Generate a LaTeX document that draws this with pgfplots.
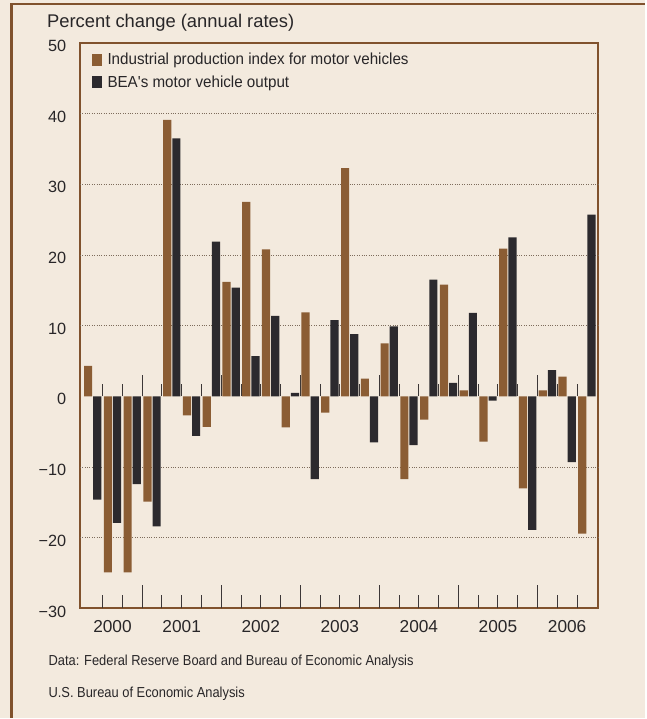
\documentclass[border=0pt]{standalone}
\usepackage{fontspec}
\setmainfont{Liberation Sans}
\newfontfamily\legfont[FakeStretch=0.95]{Liberation Sans}
\newfontfamily\srcfont[FakeStretch=0.89]{Liberation Sans}
\usepackage{pgfplots}
\pgfplotsset{compat=1.18}
\usepackage{pgfplotstable}

\definecolor{bg}{RGB}{243,234,222}
\definecolor{frame}{RGB}{128,82,45}
\definecolor{brownbar}{RGB}{139,93,52}
\definecolor{darkbar}{RGB}{44,42,46}
\definecolor{gridc}{RGB}{125,108,92}
\definecolor{txt}{RGB}{40,38,40}
\definecolor{tickc}{RGB}{60,55,55}

\pgfplotstableread{
q ip bea
0 4.3 -14.6
1 -24.9 -17.9
2 -24.9 -12.4
3 -14.9 -18.4
4 39.1 36.5
5 -2.7 -5.6
6 -4.3 21.9
7 16.2 15.4
8 27.5 5.7
9 20.8 11.4
10 -4.4 0.5
11 11.9 -11.7
12 -2.3 10.8
13 32.3 8.8
14 2.5 -6.5
15 7.5 9.9
16 -11.7 -6.9
17 -3.3 16.5
18 15.8 1.9
19 0.85 11.8
20 -6.4 -0.6
21 20.9 22.5
22 -13.0 -18.9
23 0.85 3.7
24 2.8 -9.3
25 -19.4 25.7
}\datatable

\begin{document}
\begin{tikzpicture}
\fill[bg] (0bp,0bp) rectangle (646bp,719bp);
\draw[frame, line width=2.5bp] (11.7bp,0bp) -- (11.7bp,715bp) -- (646bp,715bp);
\node[anchor=base west, font=\fontsize{18.4bp}{21bp}\selectfont, text=txt, inner sep=0pt] at (47bp,691bp) {Percent change (annual rates)};
\begin{axis}[
 at={(80bp,109.5bp)}, anchor=south west,
 scale only axis, width=519bp, height=566.5bp,
 xmin=-0.65, xmax=25.56, ymin=-30, ymax=50,
 axis line style={draw=frame, line width=2bp},
 ytick={-30,-20,...,50},
 yticklabels={−30,−20,−10,0,10,20,30,40,50},
 major tick length=0pt,
 yticklabel style={font=\fontsize{16.3bp}{18bp}\selectfont, text=txt, inner sep=0pt, xshift=-13.5bp, yshift=-3bp},
 extra y ticks={-20,-10,10,20,30,40},
 extra y tick labels={},
 extra y tick style={grid=major, major grid style={dotted, draw=gridc, line width=0.9bp}},
 xtick={1,4.5,8.5,12.5,16.5,20.5,24},
 xticklabels={2000,2001,2002,2003,2004,2005,2006},
 xticklabel style={font=\fontsize{17.3bp}{19bp}\selectfont, text=txt, inner sep=0pt, yshift=-11.5bp},
 xtick pos=bottom, ytick pos=left,
 ybar, bar width=8.2bp,
 legend style={at={(axis description cs:0,1)}, anchor=north west, xshift=11.5bp, yshift=-8bp,
   draw=none, fill=none, inner sep=0pt, row sep=5.5bp,
   font=\legfont\fontsize{16bp}{18bp}\selectfont, text=txt},
 legend cell align=left,
 legend image code/.code={\fill[#1,draw=none] (0bp,-6bp) rectangle (10bp,6bp); \path (14bp,0bp);},
]
\addplot[fill=brownbar, draw=none, bar shift=-4.6bp] table[x=q,y=ip]{\datatable};
\addplot[fill=darkbar, draw=none, bar shift=4.6bp] table[x=q,y=bea]{\datatable};
\legend{Industrial production index for motor vehicles, BEA's motor vehicle output}
\pgfplotsinvokeforeach{0.5,1.5,...,24.5}{%
  \draw[tickc, line width=0.9bp] (axis cs:#1,0) -- ++(0bp,12bp);
  \draw[tickc, line width=0.9bp] (axis cs:#1,-30) -- ++(0bp,13bp);}
\pgfplotsinvokeforeach{2.5,6.5,10.5,14.5,18.5,22.5}{%
  \draw[tickc, line width=0.9bp] (axis cs:#1,0) -- ++(0bp,21bp);
  \draw[tickc, line width=0.9bp] (axis cs:#1,-30) -- ++(0bp,23bp);}
\end{axis}
\node[anchor=base west, font=\srcfont\fontsize{14.5bp}{17bp}\selectfont, text=txt, inner sep=0pt] at (48.5bp,52bp) {Data: Federal Reserve Board and Bureau of Economic Analysis};
\node[anchor=base west, font=\srcfont\fontsize{14.5bp}{17bp}\selectfont, text=txt, inner sep=0pt] at (48.5bp,20bp) {U.S. Bureau of Economic Analysis};
\end{tikzpicture}
\end{document}
